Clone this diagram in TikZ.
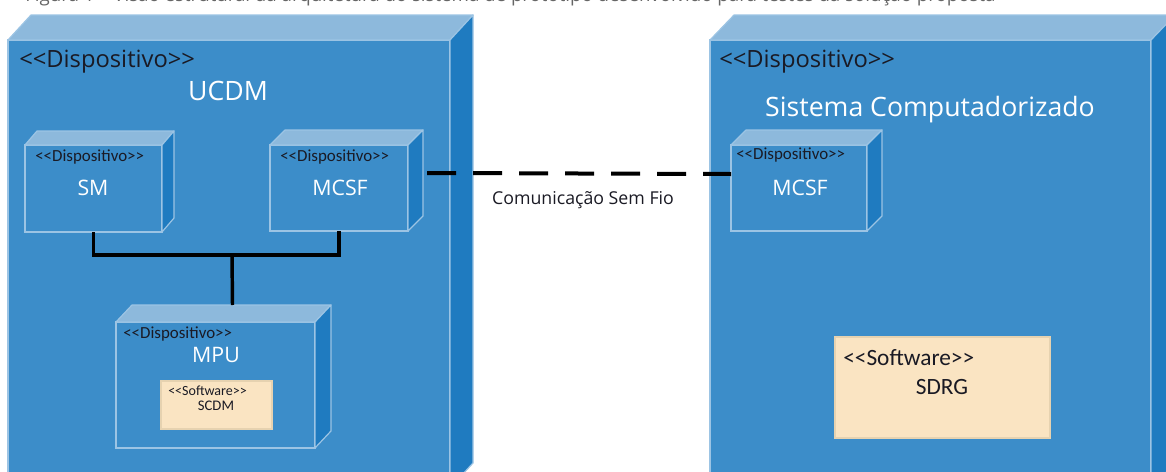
\documentclass[tikz,border=0pt]{standalone}
\usepackage{fontspec}
\usetikzlibrary{calc}
\newfontfamily\opensans{Open Sans}[Ligatures=TeXOff]
\newfontfamily\carlito{Carlito}[Ligatures=TeXOff]
\definecolor{frontblue}{HTML}{3C8DC9}
\definecolor{topblue}{HTML}{8DB9DC}
\definecolor{sideblue}{HTML}{1F7BC0}
\definecolor{edgeblue}{HTML}{9CC4E4}
\definecolor{swfill}{HTML}{FAE4C2}
\definecolor{swedge}{HTML}{E6D2B0}
\definecolor{captgray}{HTML}{666666}
\definecolor{stertext}{HTML}{1A1A24}
\tikzset{
  front/.style={draw=edgeblue, fill=frontblue, line width=0.9pt, inner sep=0pt, outer sep=0pt, anchor=north west},
  topface/.style={draw=edgeblue, fill=topblue, line width=0.9pt, line join=round},
  sideface/.style={draw=edgeblue, fill=sideblue, line width=0.9pt, line join=round},
  swbox/.style={draw=swedge, fill=swfill, line width=0.8pt, inner sep=0pt, outer sep=0pt, anchor=north west},
  bigster/.style={font=\opensans\fontsize{17.8}{21}\selectfont, text=stertext, inner sep=0pt, anchor=west},
  bigname/.style={font=\opensans\fontsize{20}{24}\selectfont, text=white, inner sep=0pt},
  smallster/.style={font=\carlito\fontsize{12.7}{14}\selectfont, text=stertext, inner sep=0pt, anchor=west},
  smallname/.style={font=\opensans\fontsize{16}{19}\selectfont, text=white, inner sep=0pt},
  conn/.style={line width=2.6pt, black, line join=miter},
  wireless/.style={line width=3pt, black, dash pattern=on 21.75pt off 12.75pt},
  lbl/.style={font=\opensans\fontsize{13.3}{16}\selectfont, text=stertext, inner sep=0pt},
  capt/.style={font=\opensans\fontsize{14}{17}\selectfont, text=captgray, inner sep=0pt, anchor=base west}
}
% name, x, y, w, h, dx, dy
\newcommand\devbox[7]{%
  \node[front, minimum width={#4*0.75pt}, minimum height={#5*0.75pt}] (#1) at (#2,#3) {};
  \filldraw[topface] (#1.north west) -- ++(#6,-#7) -- ([shift={(#6,-#7)}]#1.north east) -- (#1.north east) -- cycle;
  \filldraw[sideface] (#1.north east) -- ++(#6,-#7) -- ([shift={(#6,-#7)}]#1.south east) -- (#1.south east) -- cycle;
}
\begin{document}
\begin{tikzpicture}[x=0.75pt,y=-0.75pt]
\useasboundingbox (0,0) rectangle (1166,471);
\clip (0,0) rectangle (1166,471);
\fill[white] (0,0) rectangle (1166,471);

\node[capt] (caption) at (25,2) {Figura 1 – Visão estrutural da arquitetura do sistema de protótipo desenvolvido para testes da solução proposta};

% left device
\devbox{ucdm}{8}{40}{442}{448}{23}{25}
\node[bigster] (ucdmster) at (19,62) {<<Dispositivo>>};
\node[bigname] (ucdmname) at (228,91) {UCDM};

\devbox{sm}{25}{145}{137}{87}{12}{14}
\node[smallster] (smster) at (35,157) {<<Dispositivo>>};
\node[smallname] (smname) at (93,188) {SM};

\devbox{mcsfL}{270}{145}{138}{86}{15}{15}
\node[smallster] (mcsfLster) at (280,157) {<<Dispositivo>>};
\node[smallname] (mcsfLname) at (340,188) {MCSF};

\devbox{mpu}{116}{322}{199}{126}{16}{17}
\node[smallster] (mpuster) at (123,334) {<<Dispositivo>>};
\node[smallname] (mpuname) at (216,355) {MPU};

\node[swbox, minimum width={111*0.75pt}, minimum height={48*0.75pt}] (scdm) at (161,381) {};
\node[font=\carlito\fontsize{10.5}{12}\selectfont, text=stertext, inner sep=0pt, anchor=west] (scdmster) at (168,391) {<<Software>>};
\node[font=\carlito\fontsize{11}{13}\selectfont, text=stertext, inner sep=0pt] (scdmname) at (216,406) {SCDM};

% connectors inside UCDM
\coordinate (jn) at (232,255);
\draw[conn] (sm.south) -- (sm.south |- jn) -- (mcsfL.south |- jn) -- (mcsfL.south);
\draw[conn] (jn) -- ([shift={(17,-17)}]mpu.north);

% right device
\devbox{sc}{710}{40}{441}{448}{24}{25}
\node[bigster] (scster) at (719,62) {<<Dispositivo>>};
\node[bigname] (scname) at (930,110) {Sistema Computadorizado};

\devbox{mcsfR}{731}{145}{136}{86}{15}{15}
\node[smallster] (mcsfRster) at (736,155) {<<Dispositivo>>};
\node[smallname] (mcsfRname) at (800,188) {MCSF};

\node[swbox, minimum width={215*0.75pt}, minimum height={101*0.75pt}] (sdrg) at (835,337) {};
\node[font=\carlito\fontsize{17.5}{20}\selectfont, text=stertext, inner sep=0pt, anchor=west] (sdrgster) at (843,358) {<<Software>>};
\node[font=\carlito\fontsize{17.5}{20}\selectfont, text=stertext, inner sep=0pt] (sdrgname) at (942,387) {SDRG};

% wireless link
\draw[wireless] ([shift={(19,-15)}]mcsfL.east) -- ([shift={(0,-14)}]mcsfR.west);
\node[lbl] (wlabel) at (583,200) {Comunicação Sem Fio};
\end{tikzpicture}
\end{document}
